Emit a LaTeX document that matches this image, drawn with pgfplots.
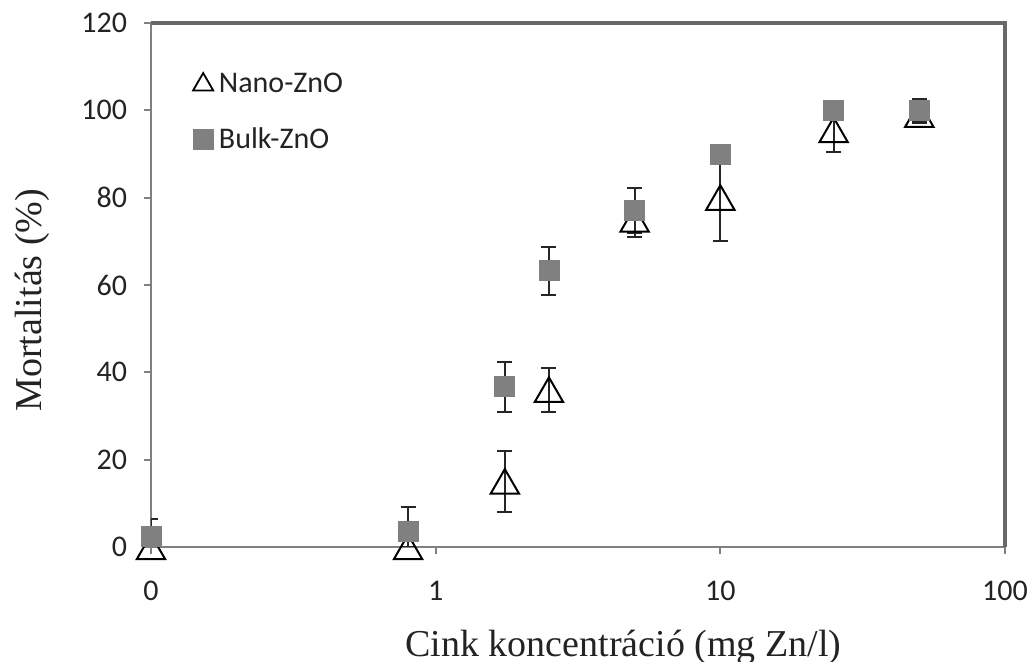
\documentclass[border=0pt]{standalone}
\usepackage{fontspec}
\setmainfont{Liberation Serif}
\newfontfamily\calib{Carlito}
\usepackage{pgfplots}
\usepackage{pgfplotstable}
\pgfplotsset{compat=1.18}

\definecolor{axisgray}{RGB}{128,128,128}
\definecolor{framegray}{RGB}{105,105,105}
\definecolor{bulkgray}{RGB}{128,128,128}
\definecolor{inkdark}{RGB}{35,35,35}

% concentration (mg Zn/l; 0 is placed at 0.1 on the log axis), mortality (%), error
\pgfplotstableread{
x     y     ey
0.1   0     0
0.8   0     0
1.75  15    7
2.5   36    5
5     75    4
10    80    10
25    95.5  5
50    99    2
}\nanodata

\pgfplotstableread{
x     y     ey
0.1   2.5   4
0.8   3.5   5.6
1.75  36.7  5.7
2.5   63.3  5.5
5     77    5.2
10    90    0
25    100   0
50    100   2.5
}\bulkdata

\begin{document}
\begin{tikzpicture}
\begin{axis}[
  name=ax,
  scale only axis, width=427pt, height=262pt,
  xmode=log, xmin=0.1, xmax=100, ymin=0, ymax=120,
  xtick={0.1,1,10,100}, xticklabels={0,1,10,100},
  xminorticks=false, yminorticks=false,
  ytick={0,20,...,120},
  xtick pos=bottom, ytick pos=left, tick align=outside, major tick length=3.5pt,
  axis lines=box,
  axis line style={draw=axisgray, line width=1pt},
  every tick/.style={axisgray, line width=1pt},
  /pgf/number format/assume math mode=true,
  tick label style={font=\calib\fontsize{15}{18}\selectfont, text=inkdark},
  yticklabel style={xshift=-5pt},
  xticklabel style={yshift=-10pt},
  xlabel={Cink koncentráció (mg Zn/l)},
  ylabel={Mortalitás (\%)},
  label style={font=\fontsize{19}{22}\selectfont, text=inkdark},
  xlabel style={at={(axis description cs:0.553,-0.191)}, anchor=center},
  ylabel style={at={(axis description cs:-0.139,0.471)}, anchor=center},
  legend style={draw=none, fill=none, at={(rel axis cs:0,1)}, anchor=north west,
    xshift=17pt, yshift=-21pt,
    font=\calib\fontsize{15}{18}\selectfont, text=inkdark, row sep=12pt},
  legend cell align=left,
  legend image code/.code={\draw[mark repeat=2,mark phase=2,#1]
    plot coordinates {(0cm,0cm) (0.2cm,0cm) (0.4cm,0cm)};},
  error bars/y dir=both, error bars/y explicit,
  error bars/error bar style={black!85, line width=1pt},
  error bars/error mark options={rotate=90, black!85, line width=1pt, mark size=3.75pt},
]
\addplot[only marks, mark=triangle,
  mark options={draw=black, fill=white, line width=1pt, mark size=8.2pt, yshift=-2pt},
  legend image code/.code={
    \path (0cm,0cm) (0.4cm,0cm);
    \draw plot[only marks, mark=triangle,
      mark options={draw=black, fill=white, line width=0.9pt, mark size=5.8pt, yshift=0pt}]
      coordinates {(0.2cm,0cm)};}]
  table[x=x, y=y, y error=ey] {\nanodata};
\addlegendentry{Nano-ZnO}
\addplot[only marks, mark=square*,
  mark options={draw=bulkgray, fill=bulkgray, mark size=5pt}]
  table[x=x, y=y, y error=ey] {\bulkdata};
\addlegendentry{Bulk-ZnO}
\end{axis}
% plot-area frame: top and right edges
\draw[framegray, line width=1.6pt] (0pt,262pt) -- (427pt,262pt) -- (427pt,0pt);
\pgfresetboundingbox
\path[use as bounding box] (-75.5pt,-57.5pt) rectangle (440.5pt,273.5pt);
\end{tikzpicture}
\end{document}
